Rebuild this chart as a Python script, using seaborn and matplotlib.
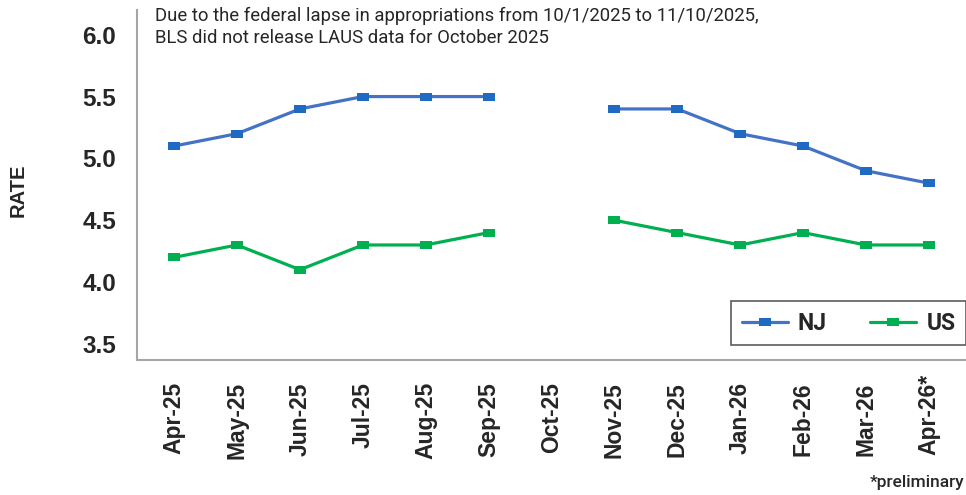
import numpy as np
import pandas as pd
import seaborn as sns
from matplotlib import pyplot as plt
from matplotlib import transforms
from matplotlib.lines import Line2D

months = ["Apr-25", "May-25", "Jun-25", "Jul-25", "Aug-25", "Sep-25", "Oct-25",
          "Nov-25", "Dec-25", "Jan-26", "Feb-26", "Mar-26", "Apr-26*"]
nj_rate = [5.1, 5.2, 5.4, 5.5, 5.5, 5.5, np.nan, 5.4, 5.4, 5.2, 5.1, 4.9, 4.8]
us_rate = [4.2, 4.3, 4.1, 4.3, 4.3, 4.4, np.nan, 4.5, 4.4, 4.3, 4.4, 4.3, 4.3]
y_ticks = [3.5, 4.0, 4.5, 5.0, 5.5, 6.0]
note = ("Due to the federal lapse in appropriations from 10/1/2025 to 11/10/2025,\n"
        "BLS did not release LAUS data for October 2025")

colors = {"NJ": "#4472C4", "US": "#00B050"}
marker_colors = {"NJ": "#1F6BC4", "US": "#00B050"}
text_color = "#262626"

# long-form table; the missing month splits each series into two segments
pos = np.arange(len(months))
gap = months.index("Oct-25")
rows = []
for name, vals in (("NJ", nj_rate), ("US", us_rate)):
    for i, v in enumerate(vals):
        if not np.isnan(v):
            rows.append({"pos": i, "rate": v, "series": name, "seg": int(i > gap)})
df = pd.DataFrame(rows)

sns.set_style("white")
plt.rcParams["font.family"] = ["Roboto", "DejaVu Sans"]

fig = plt.figure(figsize=(9.66, 4.95), dpi=100)
ax = fig.add_axes([137 / 966, 1 - 360 / 495, 829 / 966, 350 / 495])

# wide rectangle marker, like the Excel original
rect = [(-1.5, -1), (1.5, -1), (1.5, 1), (-1.5, 1), (-1.5, -1)]
for name in ("US", "NJ"):
    sub = df[df.series == name]
    sns.lineplot(data=sub, x="pos", y="rate", units="seg", estimator=None,
                 color=colors[name], linewidth=2.3, marker=rect, markersize=9,
                 markerfacecolor=marker_colors[name], markeredgewidth=0,
                 ax=ax, legend=False)

ax.set_xlim(-0.59, 12.59)
ax.set_ylim(3.37, 6.2)
ax.set_yticks(y_ticks)
ax.set_yticklabels([f"{t:.1f}" for t in y_ticks], fontsize=17.5, fontweight="bold",
                   family="Liberation Sans", color=text_color)
ax.set_xticks(pos)
ax.set_xticklabels(months, rotation=90, fontsize=16.5, fontweight="bold",
                   family="Liberation Sans", color=text_color)
ax.tick_params(axis="both", length=0)
ax.tick_params(axis="y", pad=15)
ax.tick_params(axis="x", pad=16)
# let the asterisk stick up past the other labels
last = ax.get_xticklabels()[-1]
last.set_transform(last.get_transform() +
                   transforms.ScaledTranslation(0, 8 / 100, fig.dpi_scale_trans))

ax.set_xlabel("")
ax.set_ylabel("RATE", fontsize=14.5, fontweight="bold", family="Liberation Sans",
              color=text_color)
ax.yaxis.set_label_coords(-(137 - 28) / 829, 0.486)

for side in ("top", "right"):
    ax.spines[side].set_visible(False)
for side in ("left", "bottom"):
    ax.spines[side].set_color("#A6A6A6")
    ax.spines[side].set_linewidth(1.5)

fig.text(155 / 966, 1 - 7 / 495, note, fontsize=13.3, va="top", ha="left",
         color=text_color, linespacing=1.3)
fig.text(964 / 966, 1 - 483 / 495, "*preliminary", fontsize=12.5, fontweight="medium",
         ha="right", va="center", color=text_color)

handles = [Line2D([], [], color=colors[n], linewidth=2.3, marker=rect, markersize=9,
                  markerfacecolor=marker_colors[n], markeredgewidth=0)
           for n in ("NJ", "US")]
leg = ax.legend(handles, ["NJ", "US"], ncol=2, loc="lower right",
                bbox_to_anchor=(1.0, 15 / 350), frameon=True, fancybox=False,
                prop={"family": ["Roboto"], "weight": "bold", "size": 16.5},
                handlelength=2.0, columnspacing=1.9, borderpad=0.45,
                handletextpad=0.45, borderaxespad=0)
leg.get_frame().set_edgecolor("#333333")
leg.get_frame().set_linewidth(1.2)
leg.get_frame().set_boxstyle("square", pad=0)

fig.savefig("out.png", dpi=100)
